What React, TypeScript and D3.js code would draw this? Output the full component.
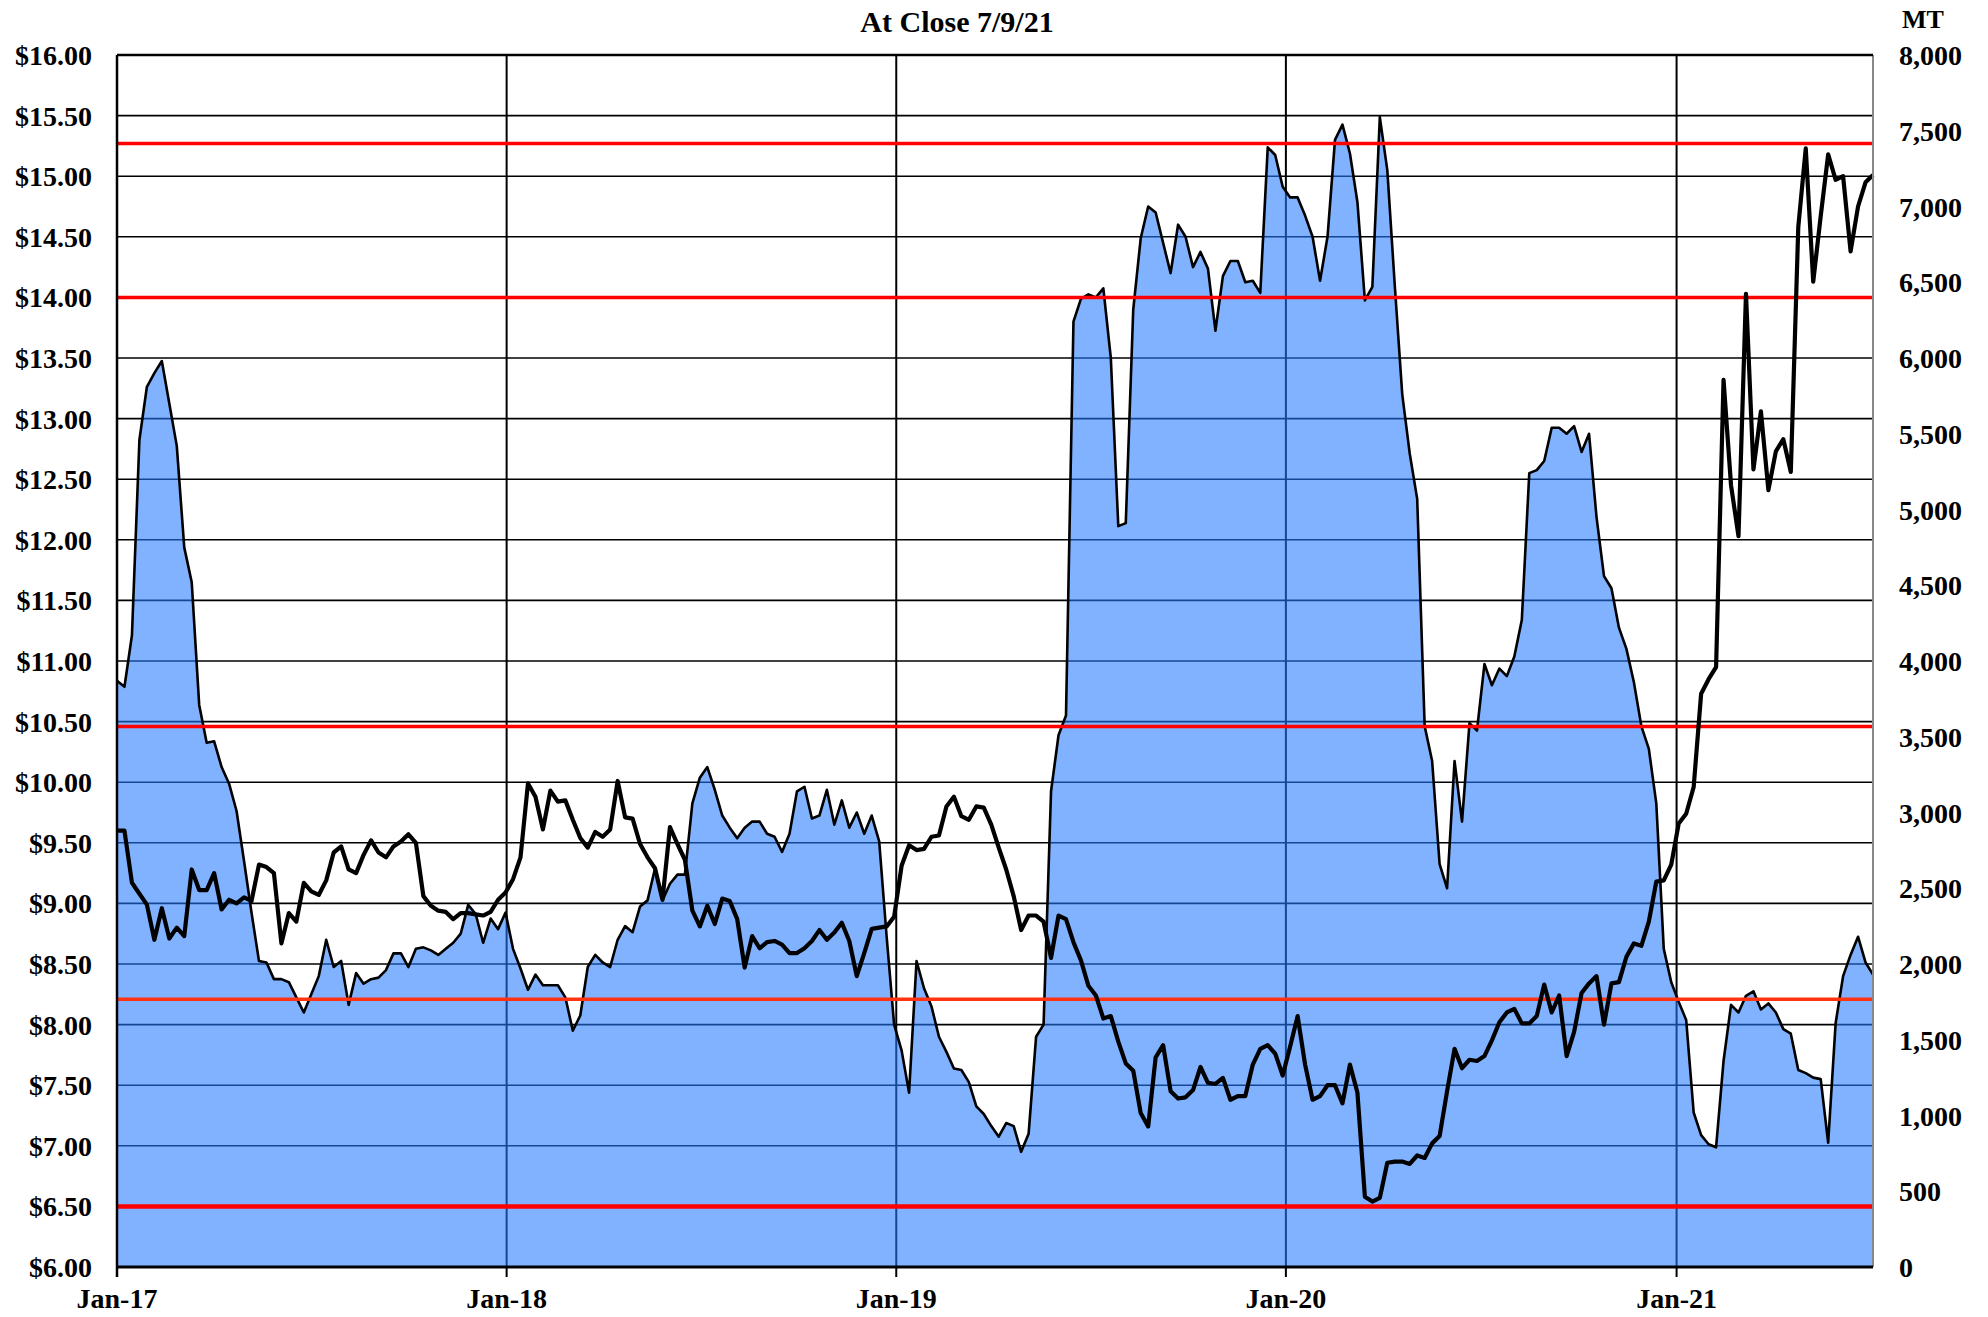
import React from "react";
import * as d3 from "d3";

// weekly closes, first week 2017-01-01, last week 2021-07-04
const firstWeek = "2017-01-01";
const lastWeek = "2021-07-04";

// black line, left axis ($)
const closePrice = [
  9.6, 9.6, 9.17, 9.08, 8.99, 8.7, 8.96, 8.71, 8.8, 8.73,
  9.28, 9.11, 9.11, 9.25, 8.95, 9.03, 9.0, 9.05, 9.02, 9.32,
  9.3, 9.25, 8.67, 8.92, 8.85, 9.17, 9.1, 9.07, 9.19, 9.42,
  9.47, 9.28, 9.25, 9.4, 9.52, 9.42, 9.38, 9.47, 9.51, 9.57,
  9.5, 9.06, 8.98, 8.94, 8.93, 8.87, 8.92, 8.92, 8.91, 8.9,
  8.93, 9.03, 9.09, 9.2, 9.38, 9.99, 9.88, 9.61, 9.93, 9.84,
  9.85, 9.69, 9.54, 9.46, 9.59, 9.55, 9.61, 10.01, 9.71, 9.7,
  9.49, 9.38, 9.29, 9.03, 9.63, 9.49, 9.36, 8.94, 8.81, 8.98,
  8.83, 9.04, 9.02, 8.87, 8.47, 8.73, 8.63, 8.68, 8.69, 8.66,
  8.59, 8.59, 8.63, 8.69, 8.78, 8.7, 8.76, 8.84, 8.69, 8.4,
  8.59, 8.79, 8.8, 8.81, 8.89, 9.31, 9.48, 9.44, 9.45, 9.55,
  9.56, 9.8, 9.88, 9.72, 9.69, 9.8, 9.79, 9.65, 9.46, 9.28,
  9.06, 8.78, 8.9, 8.9, 8.85, 8.55, 8.9, 8.87, 8.68, 8.53,
  8.32, 8.24, 8.05, 8.07, 7.86, 7.68, 7.62, 7.27, 7.16, 7.73,
  7.83, 7.45, 7.39, 7.4, 7.46, 7.65, 7.52, 7.51, 7.56, 7.38,
  7.41, 7.41, 7.67, 7.8, 7.83, 7.76, 7.58, 7.82, 8.07, 7.67,
  7.38, 7.41, 7.5, 7.5, 7.35, 7.67, 7.44, 6.58, 6.54, 6.57,
  6.86, 6.87, 6.87, 6.85, 6.92, 6.9, 7.02, 7.08, 7.45, 7.8,
  7.64, 7.71, 7.7, 7.74, 7.87, 8.02, 8.1, 8.13, 8.01, 8.01,
  8.07, 8.33, 8.1, 8.24, 7.74, 7.94, 8.26, 8.34, 8.4, 8.0,
  8.34, 8.35, 8.56, 8.67, 8.65, 8.85, 9.18, 9.19, 9.32, 9.66,
  9.74, 9.96, 10.73, 10.85, 10.95, 13.32, 12.45, 12.03, 14.03, 12.58,
  13.06, 12.41, 12.73, 12.83, 12.56, 14.58, 15.23, 14.13, 14.67, 15.18,
  14.97, 15.0, 14.38, 14.75, 14.95, 15.01,
];

// blue area, right axis (MT)
const stocksMT = [
  3870, 3830, 4170, 5460, 5810, 5900, 5980, 5700, 5420, 4750,
  4520, 3710, 3460, 3470, 3300, 3190, 3010, 2680, 2340, 2020,
  2010, 1900, 1900, 1880, 1780, 1680, 1800, 1920, 2160, 1980,
  2020, 1730, 1940, 1870, 1900, 1910, 1960, 2070, 2070, 1980,
  2100, 2110, 2090, 2060, 2100, 2140, 2200, 2390, 2330, 2140,
  2300, 2230, 2340, 2100, 1970, 1830, 1930, 1860, 1860, 1860,
  1780, 1560, 1660, 1980, 2060, 2010, 1980, 2160, 2250, 2210,
  2380, 2420, 2630, 2420, 2530, 2590, 2590, 3060, 3230, 3300,
  3150, 2980, 2900, 2830, 2900, 2940, 2940, 2860, 2840, 2740,
  2860, 3140, 3170, 2960, 2980, 3150, 2920, 3080, 2900, 3000,
  2860, 2980, 2810, 2180, 1600, 1430, 1150, 2020, 1840, 1720,
  1520, 1420, 1310, 1300, 1220, 1060, 1010, 930, 860, 950,
  930, 760, 880, 1520, 1600, 3140, 3510, 3640, 6240, 6390,
  6420, 6400, 6460, 6000, 4890, 4910, 6320, 6790, 7000, 6960,
  6760, 6560, 6880, 6800, 6600, 6700, 6590, 6180, 6540, 6640,
  6640, 6500, 6510, 6430, 7390, 7340, 7130, 7060, 7060, 6940,
  6800, 6510, 6800, 7440, 7540, 7350, 7030, 6380, 6470, 7590,
  7240, 6480, 5760, 5370, 5070, 3570, 3340, 2660, 2500, 3340,
  2940, 3590, 3540, 3980, 3840, 3950, 3900, 4030, 4270, 5240,
  5260, 5320, 5540, 5540, 5500, 5550, 5380, 5500, 4950, 4560,
  4480, 4220, 4080, 3860, 3570, 3420, 3060, 2100, 1880, 1750,
  1630, 1020, 870, 810, 790, 1360, 1730, 1680, 1790, 1820,
  1700, 1740, 1680, 1570, 1540, 1300, 1280, 1250, 1240, 820,
  1610, 1920, 2060, 2180, 2010, 1930,
];

// red reference levels ($)
const redLevels = [15.27, 14.0, 10.46, 8.21, 6.5];
const redColors = ["#ff0000", "#ff0000", "#ff0000", "#ff3311", "#ff0000"];

const priceTicks = d3.range(6, 16.001, 0.5);
const mtTicks = d3.range(0, 8001, 500);

const W = 1988;
const H = 1317;
const margin = { top: 55, right: 115, bottom: 50, left: 117 };
const font = "'Liberation Serif', 'Times New Roman', serif";

const App = () => {
  const parse = d3.utcParse("%Y-%m-%d");
  const start = parse(firstWeek) as Date;
  const end = parse(lastWeek) as Date;

  const data = closePrice.map((p, i) => ({
    date: d3.utcDay.offset(start, i * 7),
    price: p,
    mt: stocksMT[i],
  }));

  const x = d3.scaleUtc().domain([start, end]).range([margin.left, W - margin.right]);
  const yPrice = d3.scaleLinear().domain([6, 16]).range([H - margin.bottom, margin.top]);
  const yMT = d3.scaleLinear().domain([0, 8000]).range([H - margin.bottom, margin.top]);

  const years = d3.utcYear.range(start, end);
  const fmtYear = d3.utcFormat("%b-%y");

  const area = d3.area<any>()
    .x((d) => x(d.date))
    .y0(yMT(0))
    .y1((d) => yMT(d.mt));
  const areaTop = d3.line<any>()
    .x((d) => x(d.date))
    .y((d) => yMT(d.mt));
  const priceLine = d3.line<any>()
    .x((d) => x(d.date))
    .y((d) => yPrice(d.price));

  const x0 = margin.left;
  const x1 = W - margin.right;
  const y0 = margin.top;
  const y1 = H - margin.bottom;

  return (
    <svg width={W} height={H} style={{ position: "absolute", left: 0, top: 0, background: "#fff" }}
      fontFamily={font} fontWeight="bold">
      <rect x={0} y={0} width={W} height={H} fill="#fff" />

      {/* horizontal grid */}
      {priceTicks.map((t) => (
        <line key={"g" + t} x1={x0} x2={x1} y1={yPrice(t)} y2={yPrice(t)} stroke="#000" strokeWidth={1.6} />
      ))}

      {/* year lines + ticks */}
      {years.map((d) => (
        <line key={"v" + d.getTime()} x1={x(d)} x2={x(d)} y1={y0} y2={y1 + 10} stroke="#000" strokeWidth={2} />
      ))}

      {/* stocks area */}
      <path d={area(data) as string} fill="#2379ff" fillOpacity={0.576} />
      <path d={areaTop(data) as string} fill="none" stroke="#000" strokeWidth={2.6} strokeLinejoin="round" />

      {/* red levels */}
      {redLevels.map((v, i) => (
        <line key={"r" + v} x1={x0} x2={x1} y1={yPrice(v)} y2={yPrice(v)}
          stroke={redColors[i]} strokeWidth={i === 4 ? 4.5 : 3.5} />
      ))}

      {/* price line */}
      <path d={priceLine(data) as string} fill="none" stroke="#000" strokeWidth={4.2} strokeLinejoin="round" />

      {/* frame */}
      <line x1={x1} x2={x1} y1={y0} y2={y1} stroke="#888" strokeWidth={2} />
      <line x1={x0} x2={x1} y1={y0} y2={y0} stroke="#000" strokeWidth={2.5} />
      <line x1={x0} x2={x0} y1={y0} y2={y1 + 10} stroke="#000" strokeWidth={2.5} />
      <line x1={x0} x2={x1} y1={y1} y2={y1} stroke="#000" strokeWidth={3} />

      {/* left axis */}
      {priceTicks.map((t) => (
        <text key={"l" + t} x={92} y={yPrice(t) + 10} textAnchor="end" fontSize={28}>
          {"$" + t.toFixed(2)}
        </text>
      ))}

      {/* right axis */}
      {mtTicks.map((t) => (
        <text key={"m" + t} x={1899} y={yMT(t) + 10} textAnchor="start" fontSize={28}>
          {d3.format(",")(t)}
        </text>
      ))}
      <text x={1902} y={28} fontSize={26}>MT</text>

      {/* bottom axis */}
      {[start, ...years.slice(1)].map((d) => (
        <text key={"x" + d.getTime()} x={x(d)} y={1308} textAnchor="middle" fontSize={28}>
          {fmtYear(d)}
        </text>
      ))}

      <text x={957} y={32} textAnchor="middle" fontSize={30}>At Close 7/9/21</text>
    </svg>
  );
};

export default App;
